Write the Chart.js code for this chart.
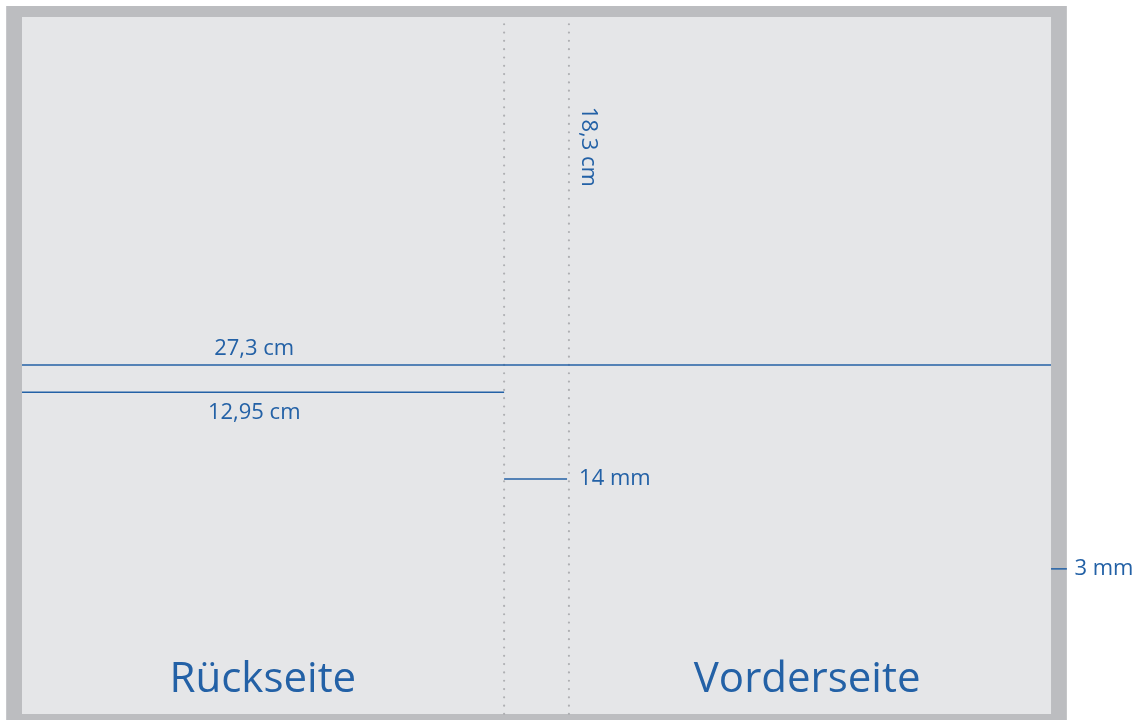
<!DOCTYPE html>
<html>
<head>
<meta charset="utf-8">
<script src="https://cdn.jsdelivr.net/npm/chart.js"></script>
<style>
  html, body { margin: 0; padding: 0; background: #fff; }
  canvas { display: block; }
</style>
</head>
<body>
<canvas id="plan" width="1143" height="720"></canvas>
<script>
// Maße in cm (wie im Bild gezeichnet)
const pageSize = [27.3, 18.3];          // Breite, Höhe des Umschlags
const spineEdges = [12.79, 14.51];      // Rücken links / rechts (Falzlinien)
const bleed = 0.42;                     // Beschnitt (gezeichnet)
const dimLevels = [9.16, 8.45, 6.17, 3.81]; // Höhe der Maßlinien: 27,3 / 12,95 / 14 mm / 3 mm
const dimLabels = ['27,3 cm', '12,95 cm', '14 mm', '3 mm', '18,3 cm'];
const sideLabels = ['Rückseite', 'Vorderseite'];

const blue = '#2361a6';
const W = pageSize[0], H = pageSize[1];

function rect(x0, y0, x1, y1) {
  return [{x: x0, y: y0}, {x: x1, y: y0}, {x: x1, y: y1}, {x: x0, y: y1}, {x: x0, y: y0}];
}
function seg(x0, x1, y) {
  return [{x: x0, y: y}, {x: x1, y: y}];
}
function vseg(x, y0, y1) {
  return [{x: x, y: y0}, {x: x, y: y1}];
}

const base = { showLine: true, pointRadius: 0, pointHoverRadius: 0, tension: 0, order: 0 };

// kleinere "order" = weiter oben gezeichnet
const datasets = [
  Object.assign({}, base, {
    data: rect(-bleed, -0.5, W + bleed, H + 0.29),
    borderWidth: 0, backgroundColor: '#bcbdc0', fill: 'shape', order: 10
  }),
  Object.assign({}, base, {
    data: rect(0, 0, W, H),
    borderWidth: 0, backgroundColor: '#e5e6e8', fill: 'shape', order: 9
  }),
  ...spineEdges.map(x => Object.assign({}, base, {
    data: vseg(x, 0, H),
    borderColor: '#afb0b3', borderWidth: 2.2,
    borderDash: [0.01, 8.3], borderCapStyle: 'round', fill: false, order: 5
  })),
  Object.assign({}, base, { data: seg(0, W, dimLevels[0]), borderColor: blue, borderWidth: 1.5, fill: false }),
  Object.assign({}, base, { data: seg(0, spineEdges[0], dimLevels[1]), borderColor: blue, borderWidth: 1.5, fill: false }),
  Object.assign({}, base, { data: seg(spineEdges[0], spineEdges[1] - 0.05, dimLevels[2]), borderColor: blue, borderWidth: 1.5, fill: false }),
  Object.assign({}, base, { data: seg(W, W + bleed, dimLevels[3]), borderColor: blue, borderWidth: 1.5, fill: false })
];

// Beschriftungen über die Skalen platzieren
const labelPlugin = {
  id: 'labels',
  afterDatasetsDraw(chart) {
    const c = chart.ctx, sx = chart.scales.x, sy = chart.scales.y;
    const px = v => sx.getPixelForValue(v), py = v => sy.getPixelForValue(v);
    c.save();
    c.fillStyle = blue;
    c.textBaseline = 'middle';
    c.font = '22px "Open Sans", "Noto Sans", sans-serif';
    c.textAlign = 'center';
    c.fillText(dimLabels[0], px(6.16), py(dimLevels[0] + 0.42));
    c.fillText(dimLabels[1], px(6.16), py(dimLevels[1] - 0.54));
    c.textAlign = 'left';
    c.fillText(dimLabels[2], px(spineEdges[1] + 0.27), py(dimLevels[2]));
    c.fillText(dimLabels[3], px(W + bleed + 0.2), py(dimLevels[3]));
    c.save();
    c.translate(px(spineEdges[1] + 0.5), py(15.94));
    c.rotate(Math.PI / 2);
    c.fillText(dimLabels[4], 0, 0);
    c.restore();
    c.textAlign = 'center';
    c.font = '42px "Open Sans", "Noto Sans", sans-serif';
    c.fillText(sideLabels[0], px(6.39), py(0.9));
    c.fillText(sideLabels[1], px(20.83), py(0.9));
    c.restore();
  }
};

new Chart(document.getElementById('plan'), {
  type: 'scatter',
  data: { datasets: datasets },
  options: {
    responsive: false,
    animation: false,
    events: [],
    layout: { padding: 0 },
    plugins: { legend: { display: false }, tooltip: { enabled: false } },
    scales: {
      x: { type: 'linear', display: false, min: -0.584, max: 29.74 },
      y: { type: 'linear', display: false, min: -0.158, max: 18.746 }
    }
  },
  plugins: [labelPlugin]
});
</script>
</body>
</html>
